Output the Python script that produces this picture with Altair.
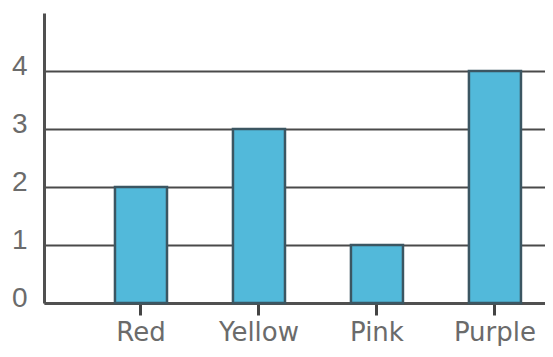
import altair as alt
import pandas as pd

colors = ["Red", "Yellow", "Pink", "Purple"]
counts = [2, 3, 1, 4]
y_ticks = [0, 1, 2, 3, 4]

df = pd.DataFrame({"color": colors, "count": counts})

bars = alt.Chart(df).mark_bar(
    fill="#52b9da", stroke="#3b5662", strokeWidth=2.5
).encode(
    x=alt.X(
        "color:N",
        sort=colors,
        title=None,
        scale=alt.Scale(paddingInner=0.559, paddingOuter=0.4026, align=0.747),
        axis=alt.Axis(
            labelAngle=0,
            labelFont="DejaVu Sans",
            labelFontSize=26,
            labelColor="#6b6b6b",
            labelBaseline="alphabetic",
            labelPadding=25,
            tickSize=12,
            tickWidth=3,
            tickColor="#444444",
            domainColor="#505050",
            domainWidth=3,
            grid=False,
        ),
    ),
    y=alt.Y(
        "count:Q",
        title=None,
        scale=alt.Scale(domain=[0, 5], nice=False),
        axis=alt.Axis(
            values=y_ticks,
            labelFont="Liberation Sans",
            labelFontSize=28,
            labelColor="#6b6b6b",
            labelBaseline="alphabetic",
            labelOffset=3,
            labelPadding=17,
            ticks=False,
            tickSize=0,
            domainColor="#505050",
            domainWidth=3,
            grid=True,
            gridColor="#4a4a4a",
            gridWidth=2,
            format="d",
        ),
    ),
)

chart = bars.properties(
    width=501,
    height=290,
    autosize=alt.AutoSizeParams(type="none"),
    padding={"left": 36, "top": 5, "right": 0, "bottom": 43},
    background="white",
).configure_view(stroke=None)

chart.save("out.html", embed_options={"renderer": "svg", "actions": False})
